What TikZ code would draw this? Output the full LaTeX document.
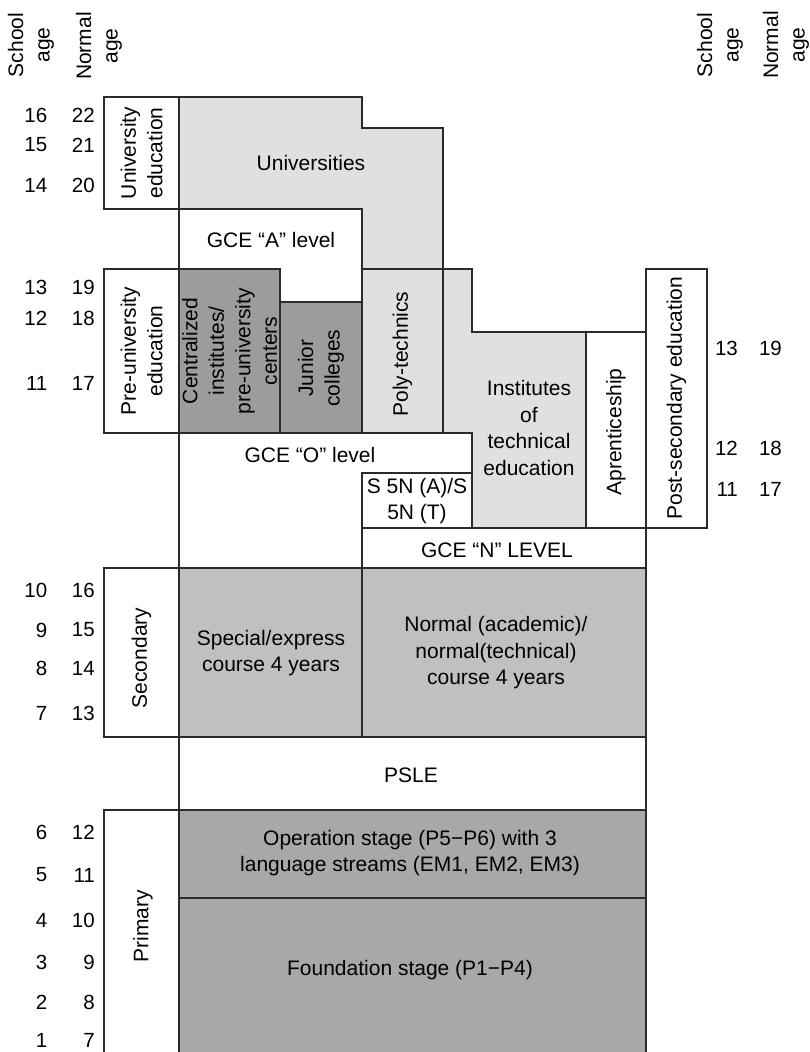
\documentclass[tikz,border=0pt]{standalone}
\usepackage{fontspec}
\setmainfont{Liberation Sans}
\definecolor{edge}{HTML}{2B2B2B}
\definecolor{palegray}{HTML}{E0E0E0}
\definecolor{deepgray}{HTML}{9C9C9C}
\definecolor{midgray}{HTML}{C0C0C0}
\definecolor{stagegray}{HTML}{A8A8A8}
\begin{document}
\begin{tikzpicture}[x=1pt,y=-1pt,
  area/.style={draw=edge,line width=1.2pt,line join=miter},
  lbl/.style={font=\fontsize{21}{26.5}\selectfont,align=center,inner sep=0pt},
  vlbl/.style={lbl,rotate=90},
  num/.style={font=\fontsize{20.5}{24}\selectfont,inner sep=0pt,anchor=east}]
\clip (0,0) rectangle (809,1052);

% ---- tertiary level ----
\path[area,fill=white] (104,97) rectangle (179,209);
\path[area,fill=palegray] (179,97) -- (362,97) -- (362,128) -- (443,128) -- (443,269)
  -- (362,269) -- (362,209) -- (179,209) -- cycle;
\path[area,fill=white] (179,209) -- (362,209) -- (362,302) -- (280,302) -- (280,269)
  -- (179,269) -- cycle;

% ---- pre-university / post-secondary ----
\path[area,fill=white] (104,269) rectangle (179,433);
\path[area,fill=deepgray] (179,269) rectangle (280,433);
\path[area,fill=deepgray] (280,302) rectangle (362,433);
\path[area,fill=palegray] (362,269) rectangle (443,433);
\path[area,fill=palegray] (443,269) -- (472,269) -- (472,332) -- (586,332) -- (586,528)
  -- (472,528) -- (472,433) -- (443,433) -- cycle;
\path[area,fill=white] (586,332) rectangle (646,528);
\path[area,fill=white] (646,269) rectangle (707,528);
\path[area,fill=white] (179,433) -- (472,433) -- (472,473) -- (362,473) -- (362,568)
  -- (179,568) -- cycle;
\path[area,fill=white] (362,473) rectangle (472,528);
\path[area,fill=white] (362,528) rectangle (646,568);

% ---- secondary ----
\path[area,fill=white] (104,568) rectangle (179,737);
\path[area,fill=midgray] (179,568) rectangle (362,737);
\path[area,fill=midgray] (362,568) rectangle (646,737);
\path[area,fill=white] (179,737) rectangle (646,810);

% ---- primary ----
\draw[area] (104,1070) -- (104,810) -- (179,810) -- (179,1070);
\path[area,fill=stagegray] (179,810) rectangle (646,898);
\path[area,fill=stagegray] (179,898) rectangle (646,1070);

% ---- labels ----
\node[vlbl] (univedu) at (141.5,153) {University\\education};
\node[lbl] (univ) at (311,163) {Universities};
\node[lbl] (gcea) at (271,240) {GCE “A” level};
\node[vlbl] (preuni) at (141.5,351) {Pre-university\\education};
\node[vlbl] (central) at (229.5,351) {Centralized\\institutes/\\pre-university\\centers};
\node[vlbl] (junior) at (321,368) {Junior\\colleges};
\node[vlbl] (poly) at (402.5,354) {Poly-technics};
\node[lbl] (ite) at (529,428) {Institutes\\of\\technical\\education};
\node[vlbl] (appr) at (616,432) {Aprenticeship};
\node[vlbl] (postsec) at (676.5,398) {Post-secondary education};
\node[lbl] (gceo) at (310,455) {GCE “O” level};
\node[lbl] (s5n) at (417,501) {S 5N (A)/S\\5N (T)};
\node[lbl] (gcen) at (497,550) {GCE “N” LEVEL};
\node[vlbl] (second) at (141.5,658) {Secondary};
\node[lbl] (special) at (271,653) {Special/express\\course 4 years};
\node[lbl] (normal) at (496,653) {Normal (academic)/\\normal(technical)\\course 4 years};
\node[lbl] (psle) at (411,775) {PSLE};
\node[vlbl] (primary) at (143,926) {Primary};
\node[lbl] (oper) at (410,853) {Operation stage (P5−P6) with 3\\language streams (EM1, EM2, EM3)};
\node[lbl] (found) at (410,970) {Foundation stage (P1−P4)};

% ---- age columns ----
\node[vlbl] (hschool) at (31,45) {School\\age};
\node[vlbl] (hnormal) at (99,46) {Normal\\age};
\node[vlbl] (hschoolr) at (720,45) {School\\age};
\node[vlbl] (hnormalr) at (786,45) {Normal\\age};

\foreach \yy/\sa/\na in {115/16/22,145/15/21,185/14/20,287/13/19,318/12/18,383/11/17,
  590/10/16,630/9/15,668/8/14,713/7/13,832/6/12,875/5/11,920/4/10,962/3/9,1002/2/8,1040/1/7}
{
  \node[num] (s\sa) at (47.5,\yy) {\sa};
  \node[num] (n\sa) at (95,\yy) {\na};
}
\foreach \yy/\sa/\na in {348/13/19,448/12/18,489/11/17}
{
  \node[num] (rs\sa) at (738,\yy) {\sa};
  \node[num] (rn\sa) at (782,\yy) {\na};
}
\end{tikzpicture}
\end{document}
